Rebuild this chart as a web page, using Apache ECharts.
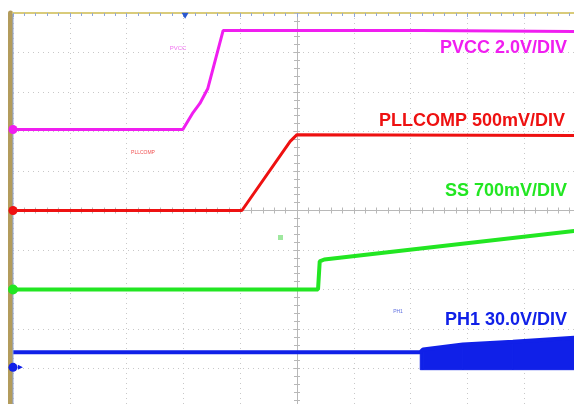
<!DOCTYPE html>
<html>
<head>
<meta charset="utf-8">
<script src="https://cdn.jsdelivr.net/npm/echarts@6/dist/echarts.min.js"></script>
<style>html,body{margin:0;padding:0;background:#fff;}#c{width:574px;height:404px;}</style>
</head>
<body>
<div id="c"></div>
<script>
// Scope screen in divisions (centre = 0,0), 10 x 10 divisions
const pvccX = [-5.0, -2.01, -1.83, -1.71, -1.57, -1.30, 2.17, 5.0];
const pvccY = [2.05, 2.05, 2.48, 2.71, 3.09, 4.56, 4.56, 4.53];
const pllX = [-5.0, -0.97, -0.12, 0.0, 5.0];
const pllY = [0.0, 0.0, 1.75, 1.92, 1.90];
const ssX = [-5.0, 0.37, 0.40, 0.48, 5.0];
const ssY = [-2.0, -2.0, -1.29, -1.24, -0.50];
const ph1X = [-5.0, 2.17, 2.22, 2.92, 3.80, 5.0];
const ph1Y = [-3.59, -3.59, -3.52, -3.39, -3.32, -3.21];
const bandX = [2.17, 2.22, 2.92, 3.80, 5.0];
const bandLow = [-4.03, -4.03, -4.03, -4.03, -4.03];
const bandHigh = [-3.59, -3.52, -3.39, -3.32, -3.21];
const channelLabels = ['PVCC 2.0V/DIV', 'PLLCOMP 500mV/DIV', 'SS 700mV/DIV', 'PH1 30.0V/DIV'];
const traceNames = ['PVCC', 'PLLCOMP', 'SS', 'PH1'];
const markerLevels = [2.05, 0.0, -2.0, -3.97];
const triggerX = -1.97;

const colors = ['#f01ef0', '#ee1111', '#22e622', '#1020e8'];
const pairs = (xs, ys) => xs.map((x, i) => [x, ys[i]]);

const gridBox = {left: 13, top: 13, right: -7, bottom: -4, containLabel: false, outerBoundsMode: 'none'};
const baseAxis = {type: 'value', min: -5, max: 5, interval: 1, axisLabel: {show: false}};
const centreLine = {show: true, onZero: true, lineStyle: {color: '#b8b8b8', width: 1}};
const tick = {show: true, inside: true, length: 3, lineStyle: {color: '#b8b8b8'}};
const minor = {show: true, splitNumber: 5, length: 3, lineStyle: {color: '#b8b8b8'}};
const dotted = {show: true, lineStyle: {color: '#c8c8c8', type: [1, 4], width: 1}};

const bandData = bandX.map((x, i) => [x, bandLow[i], bandHigh[i]]);

const option = {
  animation: false,
  backgroundColor: '#ffffff',
  grid: [Object.assign({}, gridBox), Object.assign({}, gridBox)],
  xAxis: [
    Object.assign({}, baseAxis, {gridIndex: 0, position: 'bottom', axisLine: centreLine, axisTick: tick, minorTick: minor, splitLine: dotted}),
    Object.assign({}, baseAxis, {gridIndex: 0, position: 'top', axisLine: {show: true, onZero: false, lineStyle: {color: '#d9cb7a', width: 2}}, axisTick: {show: true, inside: true, length: 4, lineStyle: {color: '#8fa6d8'}}, minorTick: {show: true, splitNumber: 5, length: 3, lineStyle: {color: '#8fa6d8'}}, splitLine: {show: false}}),
    Object.assign({}, baseAxis, {gridIndex: 1, position: 'top', axisLine: centreLine, axisTick: tick, minorTick: minor, splitLine: {show: false}})
  ],
  yAxis: [
    Object.assign({}, baseAxis, {gridIndex: 0, position: 'left', axisLine: centreLine, axisTick: tick, minorTick: minor, splitLine: dotted}),
    Object.assign({}, baseAxis, {gridIndex: 1, position: 'right', axisLine: centreLine, axisTick: tick, minorTick: minor, splitLine: {show: false}}),
    Object.assign({}, baseAxis, {gridIndex: 1, position: 'left', offset: 2.5, axisLine: {show: true, onZero: false, lineStyle: {color: '#b39c5c', width: 5}}, axisTick: {show: false}, splitLine: {show: false}})
  ],
  graphic: [
    {type: 'line', shape: {x1: 13, y1: 14, x2: 13, y2: 404}, style: {stroke: '#8fa6d8', lineWidth: 1}, z: 5},
    {type: 'text', x: 567, y: 48.5, style: {text: channelLabels[0], fill: colors[0], font: 'bold 18px "Liberation Sans", Arial, sans-serif', align: 'right', verticalAlign: 'middle'}, z: 10},
    {type: 'text', x: 565, y: 121.5, style: {text: channelLabels[1], fill: colors[1], font: 'bold 18px "Liberation Sans", Arial, sans-serif', align: 'right', verticalAlign: 'middle'}, z: 10},
    {type: 'text', x: 567, y: 191, style: {text: channelLabels[2], fill: colors[2], font: 'bold 18px "Liberation Sans", Arial, sans-serif', align: 'right', verticalAlign: 'middle'}, z: 10},
    {type: 'text', x: 567, y: 320, style: {text: channelLabels[3], fill: colors[3], font: 'bold 18px "Liberation Sans", Arial, sans-serif', align: 'right', verticalAlign: 'middle'}, z: 10},
    {type: 'text', x: 178, y: 48, style: {text: traceNames[0], fill: '#f070f0', font: '6px "Liberation Sans", Arial, sans-serif', align: 'center', verticalAlign: 'middle'}, z: 10},
    {type: 'text', x: 143, y: 153, style: {text: traceNames[1], fill: '#f05050', font: '5px "Liberation Sans", Arial, sans-serif', align: 'center', verticalAlign: 'middle'}, z: 10},
    {type: 'rect', shape: {x: 278, y: 235, width: 5, height: 5}, style: {fill: '#9fe89f'}, z: 10},
    {type: 'text', x: 398, y: 312, style: {text: traceNames[3], fill: '#6070e0', font: '5px "Liberation Sans", Arial, sans-serif', align: 'center', verticalAlign: 'middle'}, z: 10}
  ],
  series: [
    {name: traceNames[0], type: 'line', xAxisIndex: 0, yAxisIndex: 0, data: pairs(pvccX, pvccY), symbol: 'none', lineStyle: {color: colors[0], width: 3}, z: 3,
      markPoint: {symbol: 'circle', symbolSize: 9, itemStyle: {color: colors[0]}, label: {show: false}, data: [{coord: [-5, markerLevels[0]]}]}},
    {name: traceNames[1], type: 'line', xAxisIndex: 0, yAxisIndex: 0, data: pairs(pllX, pllY), symbol: 'none', lineStyle: {color: colors[1], width: 3}, z: 3,
      markPoint: {symbol: 'circle', symbolSize: 9, itemStyle: {color: colors[1]}, label: {show: false}, data: [{coord: [-5, markerLevels[1]]}]}},
    {name: traceNames[2], type: 'line', xAxisIndex: 0, yAxisIndex: 0, data: pairs(ssX, ssY), symbol: 'none', lineStyle: {color: colors[2], width: 4}, z: 3,
      markPoint: {symbol: 'circle', symbolSize: 10, itemStyle: {color: colors[2]}, label: {show: false}, data: [{coord: [-5, markerLevels[2]]}]}},
    {name: traceNames[3], type: 'line', xAxisIndex: 0, yAxisIndex: 0, data: pairs(ph1X, ph1Y), symbol: 'none', lineStyle: {color: colors[3], width: 4}, z: 3,
      markPoint: {label: {show: false}, data: [
        {coord: [-5, markerLevels[3]], symbol: 'circle', symbolSize: 9, itemStyle: {color: colors[3]}},
        {coord: [-4.87, markerLevels[3]], symbol: 'triangle', symbolSize: [5, 5], symbolRotate: -90, itemStyle: {color: colors[3]}},
        {coord: [triggerX, 4.93], symbol: 'triangle', symbolSize: [7, 6], symbolRotate: 180, itemStyle: {color: '#2a58d0'}}
      ]}},
    {name: 'PH1 band', type: 'custom', xAxisIndex: 0, yAxisIndex: 0, data: bandData, z: 3, clip: true,
      renderItem: function (params, api) {
        const i = params.dataIndex;
        if (i >= bandData.length - 1) return null;
        const a = bandData[i], b = bandData[i + 1];
        const pts = [api.coord([a[0], a[1]]), api.coord([a[0], a[2]]), api.coord([b[0], b[2]]), api.coord([b[0], b[1]])];
        return {type: 'polygon', shape: {points: pts}, style: {fill: colors[3], stroke: colors[3], lineWidth: 1}};
      }}
  ]
};
const chart = echarts.init(document.getElementById('c'), null, {renderer: 'canvas'});
chart.setOption(option);
</script>
</body>
</html>
